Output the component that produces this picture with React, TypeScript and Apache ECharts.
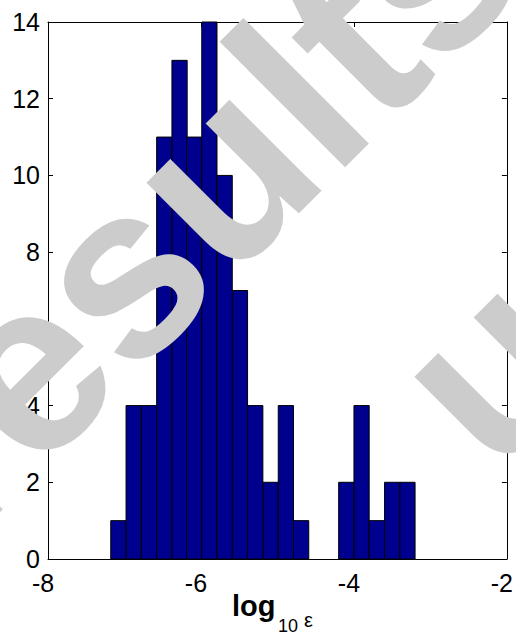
import React, { useEffect, useRef } from "react";
import * as echarts from "echarts";

// Histogram of log10(epsilon): bin centres and counts
const binCenters = [
  -7.08, -6.88, -6.68, -6.48, -6.28, -6.09, -5.89, -5.69, -5.49, -5.29,
  -5.09, -4.89, -4.69, -4.49, -4.29, -4.1, -3.9, -3.7, -3.5, -3.3,
];
const counts = [1, 4, 4, 11, 13, 11, 14, 10, 7, 4, 2, 4, 1, 0, 0, 2, 4, 1, 2, 2];
const binWidth = 0.199;

const xMin = -8;
const xMax = -2;
const xStep = 2;
const yMin = 0;
const yMax = 14;
const yStep = 2;

const titleMain = "log";
const titleSub = "10";
const titleSym = "ε";
const watermarkMain = "results";
const watermarkSecond = "u";

export default function App() {
  const ref = useRef<HTMLDivElement>(null);

  useEffect(() => {
    if (!ref.current) return;
    const chart = echarts.init(ref.current, null, { renderer: "svg" });
    const font = "'Liberation Sans', Arial, Helvetica, sans-serif";
    const lineStyle = { color: "#000", width: 1 };

    const xBase = {
      type: "value",
      min: xMin,
      max: xMax,
      interval: xStep,
      splitLine: { show: false },
      axisLine: { show: true, onZero: false, lineStyle },
      axisTick: { show: true, inside: true, length: 5, lineStyle },
    };
    const yBase = {
      type: "value",
      min: yMin,
      max: yMax,
      interval: yStep,
      splitLine: { show: false },
      axisLine: { show: true, onZero: false, lineStyle },
      axisTick: { show: true, inside: true, length: 5, lineStyle },
    };

    chart.setOption({
      animation: false,
      grid: { left: 48, right: 8, top: 22, bottom: 76, containLabel: false },
      xAxis: [
        {
          ...xBase,
          position: "bottom",
          axisLabel: {
            fontSize: 25,
            color: "#000",
            fontFamily: font,
            margin: 11,
            align: "center",
            padding: [0, 10, 0, 0],
          },
        },
        { ...xBase, position: "top", axisLabel: { show: false } },
      ],
      yAxis: [
        {
          ...yBase,
          position: "left",
          axisLabel: { fontSize: 25, color: "#000", fontFamily: font, margin: 8 },
        },
        { ...yBase, position: "right", axisLabel: { show: false } },
      ],
      series: [
        {
          type: "custom",
          xAxisIndex: 0,
          yAxisIndex: 0,
          data: binCenters.map((c, i) => [c, counts[i]]),
          renderItem: (params: any, api: any) => {
            const c = api.value(0);
            const v = api.value(1);
            if (!v) return null;
            const p0 = api.coord([c - binWidth / 2, 0]);
            const p1 = api.coord([c + binWidth / 2, v]);
            return {
              type: "rect",
              shape: {
                x: p0[0],
                y: p1[1],
                width: p1[0] - p0[0],
                height: p0[1] - p1[1],
              },
              style: { fill: "#00008F", stroke: "#000", lineWidth: 1 },
            };
          },
        },
      ],
      graphic: [
        {
          type: "text",
          x: 232,
          y: 606,
          style: {
            text: titleMain,
            font: `bold 29px ${font}`,
            fill: "#000",
            textAlign: "left",
            textVerticalAlign: "middle",
          },
        },
        {
          type: "text",
          x: 278,
          y: 625.5,
          style: {
            text: titleSub,
            font: `18px ${font}`,
            fill: "#000",
            textAlign: "left",
            textVerticalAlign: "middle",
          },
        },
        {
          type: "text",
          x: 304,
          y: 620,
          style: {
            text: titleSym,
            font: `20px ${font}`,
            fill: "#000",
            textAlign: "left",
            textVerticalAlign: "middle",
          },
        },
        {
          type: "text",
          x: -93,
          y: 485,
          rotation: Math.PI / 4,
          z: 100,
          silent: true,
          style: {
            text: watermarkMain,
            font: `bold 245px ${font}`,
            fill: "#cccccc",
            textAlign: "left",
            textVerticalAlign: "middle",
          },
        },
        {
          type: "text",
          x: 488,
          y: 366,
          rotation: Math.PI / 4,
          z: 100,
          silent: true,
          style: {
            text: watermarkSecond,
            font: `bold 245px ${font}`,
            fill: "#cccccc",
            textAlign: "center",
            textVerticalAlign: "middle",
          },
        },
      ],
    });

    return () => chart.dispose();
  }, []);

  return (
    <div
      ref={ref}
      style={{ position: "absolute", left: 0, top: 0, width: 516, height: 635 }}
    />
  );
}
